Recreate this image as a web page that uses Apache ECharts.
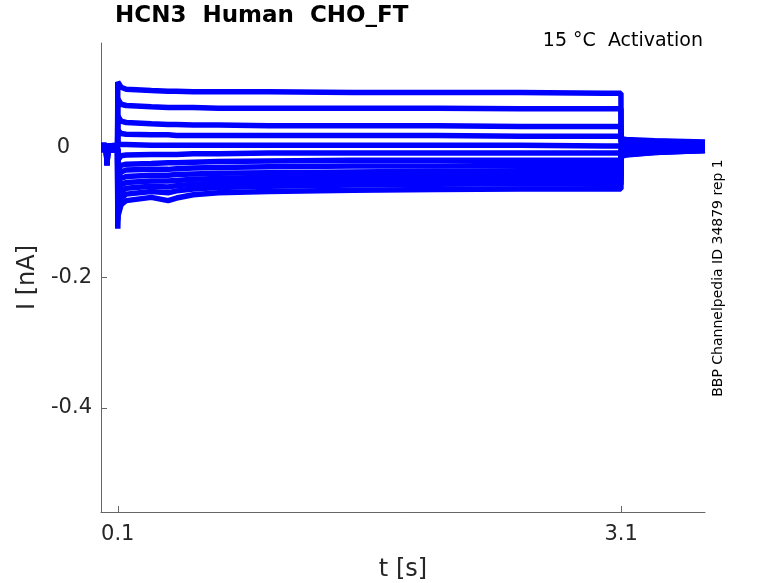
<!DOCTYPE html>
<html>
<head>
<meta charset="utf-8">
<script src="https://cdn.jsdelivr.net/npm/echarts@6/dist/echarts.min.js"></script>
<style>
  html, body { margin: 0; padding: 0; background: #fff; }
  #mychart { width: 778px; height: 583px; }
</style>
</head>
<body>
<div id="mychart"></div>
<script>
// time points [s], shared by every sweep
var t = [0, 0.032, 0.036, 0.04, 0.046, 0.099, 0.1, 0.102, 0.12, 0.15, 0.3, 0.4, 0.45, 0.55, 0.7, 1.0, 1.5, 2.0, 2.5, 3.0, 3.099, 3.1, 3.13, 3.3, 3.6]

// current [nA] for each sweep (top to bottom)
var s01 = [0.003, 0.003, -0.02, 0.002, 0.003, 0.003, 0.1, 0.097, 0.092, 0.089, 0.087, 0.086, 0.086, 0.085, 0.085, 0.085, 0.084, 0.084, 0.084, 0.083, 0.083, 0.013, 0.012, 0.010, 0.008]
var s02 = [0.003, 0.003, -0.02, 0.002, 0.003, 0.003, 0.074, 0.071, 0.066, 0.064, 0.062, 0.061, 0.061, 0.061, 0.060, 0.060, 0.060, 0.060, 0.059, 0.059, 0.059, 0.011, 0.010, 0.009, 0.007]
var s03 = [0.002, 0.002, -0.021, 0.001, 0.002, 0.002, 0.048, 0.045, 0.040, 0.038, 0.036, 0.035, 0.035, 0.034, 0.034, 0.033, 0.033, 0.033, 0.032, 0.032, 0.032, 0.008, 0.008, 0.006, 0.005]
var s04 = [0.001, 0.001, -0.022, 0.0, 0.001, 0.001, 0.026, 0.024, 0.021, 0.020, 0.019, 0.019, 0.018, 0.018, 0.018, 0.018, 0.018, 0.018, 0.017, 0.017, 0.017, 0.005, 0.005, 0.004, 0.003]
var s05 = [0.0, 0.0, -0.023, -0.001, 0.0, 0.0, 0.006, 0.005, 0.004, 0.004, 0.003, 0.003, 0.003, 0.003, 0.003, 0.003, 0.003, 0.003, 0.003, 0.002, 0.002, 0.002, 0.002, 0.001, 0.001]
var s06 = [-0.001, -0.001, -0.024, -0.002, -0.001, -0.001, -0.02, -0.017, -0.013, -0.012, -0.011, -0.011, -0.011, -0.010, -0.010, -0.009, -0.009, -0.009, -0.009, -0.009, -0.009, -0.001, -0.001, -0.001, 0.0]
var s07 = [-0.002, -0.002, -0.025, -0.003, -0.002, -0.002, -0.04, -0.035, -0.028, -0.026, -0.025, -0.024, -0.024, -0.023, -0.022, -0.021, -0.020, -0.020, -0.020, -0.020, -0.020, -0.004, -0.004, -0.003, -0.002]
var s08 = [-0.002, -0.002, -0.026, -0.003, -0.002, -0.002, -0.055, -0.048, -0.038, -0.035, -0.034, -0.034, -0.033, -0.032, -0.031, -0.030, -0.029, -0.029, -0.028, -0.028, -0.028, -0.006, -0.006, -0.004, -0.003]
var s09 = [-0.003, -0.003, -0.027, -0.004, -0.003, -0.003, -0.07, -0.06, -0.048, -0.045, -0.043, -0.043, -0.042, -0.041, -0.040, -0.039, -0.038, -0.037, -0.036, -0.036, -0.036, -0.008, -0.007, -0.005, -0.004]
var s10 = [-0.003, -0.003, -0.027, -0.004, -0.003, -0.003, -0.085, -0.072, -0.058, -0.054, -0.052, -0.052, -0.051, -0.049, -0.048, -0.046, -0.045, -0.044, -0.043, -0.043, -0.043, -0.010, -0.009, -0.006, -0.004]
var s11 = [-0.003, -0.003, -0.028, -0.004, -0.003, -0.003, -0.1, -0.085, -0.068, -0.063, -0.060, -0.061, -0.059, -0.057, -0.055, -0.053, -0.052, -0.051, -0.050, -0.050, -0.050, -0.011, -0.010, -0.007, -0.005]
var s12 = [-0.004, -0.004, -0.028, -0.005, -0.004, -0.004, -0.112, -0.095, -0.078, -0.072, -0.068, -0.070, -0.067, -0.064, -0.062, -0.060, -0.058, -0.057, -0.056, -0.057, -0.057, -0.013, -0.011, -0.008, -0.005]
var s13 = [-0.004, -0.004, -0.028, -0.005, -0.004, -0.004, -0.125, -0.105, -0.088, -0.082, -0.077, -0.082, -0.078, -0.073, -0.070, -0.068, -0.066, -0.065, -0.064, -0.064, -0.064, -0.014, -0.012, -0.008, -0.005]

var sweeps = [s01, s02, s03, s04, s05, s06, s07, s08, s09, s10, s11, s12, s13]

// axis ticks
var xTicks = [0.1, 3.1]
var yTicks = [-0.4, -0.2, 0]

var myChart = echarts.init(document.getElementById('mychart'))

var FONT = 'DejaVu Sans'
var TXT = '#262626'
var AX = '#666'

var series = sweeps.map(function (s) {
  return {
    type: 'line',
    data: t.map(function (x, i) { return [x, s[i]] }),
    showSymbol: false,
    silent: true,
    lineStyle: { color: '#0000ff', width: 5.5 }
  }
})

var option = {
  animation: false,
  backgroundColor: '#fff',
  grid: { left: 101, top: 43, right: 73, bottom: 71, outerBoundsMode: 'none' },
  xAxis: {
    type: 'value',
    min: 0,
    max: 3.6,
    axisLine: { show: true, onZero: false, lineStyle: { color: AX, width: 1 } },
    axisTick: { show: true, inside: true, length: 6, customValues: xTicks, lineStyle: { color: AX } },
    axisLabel: {
      customValues: xTicks, color: TXT, fontFamily: FONT, fontSize: 21, margin: 12,
      formatter: function (v) { return String(v) }
    },
    splitLine: { show: false },
    name: 't [s]',
    nameLocation: 'middle',
    nameGap: 46,
    nameTextStyle: { color: TXT, fontFamily: FONT, fontSize: 24 }
  },
  yAxis: {
    type: 'value',
    min: -0.56,
    max: 0.16,
    axisLine: { show: true, onZero: false, lineStyle: { color: AX, width: 1 } },
    axisTick: { show: true, inside: true, length: 6, customValues: yTicks, lineStyle: { color: AX } },
    axisLabel: {
      customValues: yTicks, color: TXT, fontFamily: FONT, fontSize: 21, margin: 9,
      formatter: function (v) { return v === 0 ? '{z|0}' : String(v) },
      rich: { z: { color: TXT, fontFamily: FONT, fontSize: 21, padding: [0, 22, 0, 0] } }
    },
    splitLine: { show: false },
    name: 'I [nA]',
    nameLocation: 'middle',
    nameGap: 50,
    nameTextStyle: { color: TXT, fontFamily: FONT, fontSize: 24 }
  },
  graphic: [
    {
      type: 'text', left: 115, top: 5,
      style: { text: 'HCN3  Human  CHO_FT', fill: '#000', font: 'bold 23px "DejaVu Sans"' }
    },
    {
      type: 'text', x: 703, y: 41,
      style: { text: '15 °C  Activation', fill: '#000', font: '19px "DejaVu Sans"', align: 'right', verticalAlign: 'middle' }
    },
    {
      type: 'text', x: 718, y: 278, rotation: Math.PI / 2,
      style: { text: 'BBP Channelpedia ID 34879 rep 1', fill: '#000', font: '14px "DejaVu Sans"', align: 'center', verticalAlign: 'middle' }
    }
  ],
  series: series
}

myChart.setOption(option)
</script>
</body>
</html>
